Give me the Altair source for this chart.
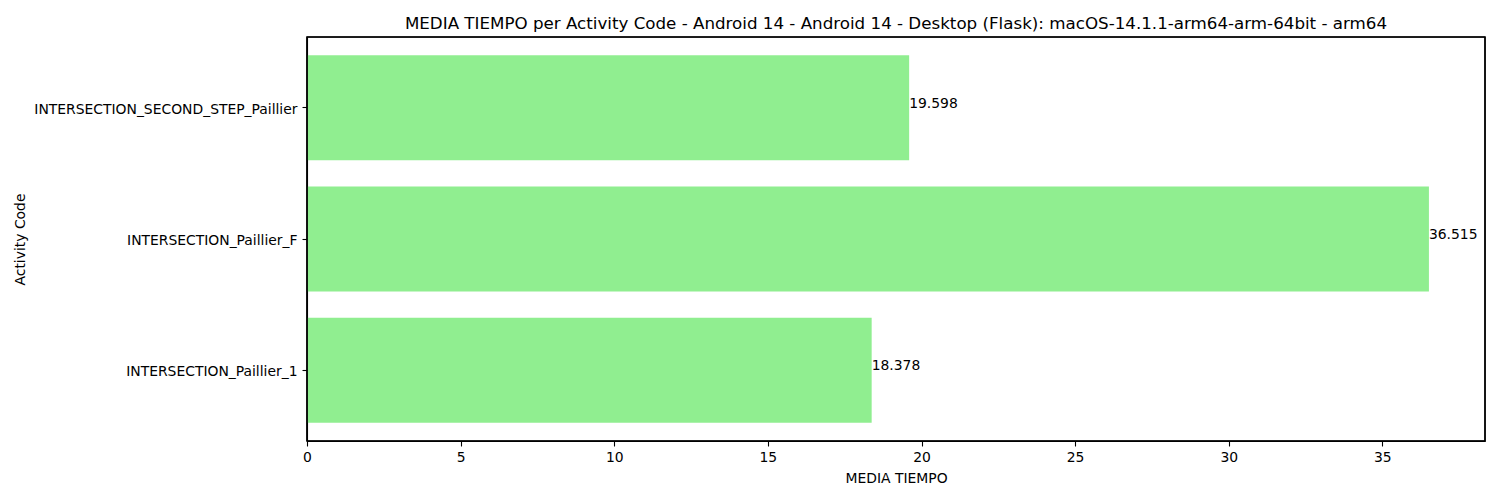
import altair as alt
import pandas as pd

categories = ["INTERSECTION_SECOND_STEP_Paillier", "INTERSECTION_Paillier_F", "INTERSECTION_Paillier_1"]
values = [19.598, 36.515, 18.378]
labels = ["19.598", "36.515", "18.378"]

df = pd.DataFrame({"cat": categories, "val": values, "lab": labels})

FONT = "DejaVu Sans"
W, H = 1178, 404

y_enc = alt.Y("cat:N", sort=categories, title="Activity Code",
              scale=alt.Scale(paddingInner=0.2, paddingOuter=0.14),
              axis=alt.Axis(labelFontSize=13.9, titleFontSize=13.9, labelFont=FONT, titleFont=FONT,
                            labelColor="black", titleColor="black", tickColor="black", domainColor="black",
                            tickSize=5, labelPadding=5, grid=False, labelOffset=2, tickWidth=1.1,
                            domainWidth=1.1, titleFontWeight="normal", labelLimit=400,
                            titleX=-287, titleY=202, titleAngle=270, titleAlign="center",
                            titleBaseline="middle"))
x_enc = alt.X("val:Q", title="MEDIA TIEMPO",
              scale=alt.Scale(domain=[0, 38.34], nice=False, zero=True),
              axis=alt.Axis(values=[0, 5, 10, 15, 20, 25, 30, 35], labelFontSize=13.9, titleFontSize=13.9,
                            labelFont=FONT, titleFont=FONT, labelColor="black", titleColor="black",
                            tickColor="black", domainColor="black", tickSize=5, labelPadding=4,
                            tickWidth=1.1, domainWidth=1.1,
                            titlePadding=8, grid=False, titleFontWeight="normal", labelFlush=False))

bars = alt.Chart(df).mark_bar(color="#90EE90").encode(x=x_enc, y=y_enc)
text = alt.Chart(df).mark_text(align="left", baseline="alphabetic", font=FONT, fontSize=13.9,
                               color="black").encode(
    x=alt.X("val:Q"), y=alt.Y("cat:N", sort=categories), text="lab:N")
frame = alt.Chart(df).mark_rect(fill=None, stroke="black", strokeWidth=1.1).encode(
    x=alt.value(0), x2=alt.value(W), y=alt.value(0), y2=alt.value(H))

chart = alt.layer(bars, text, frame).properties(
    width=W, height=H,
    title=alt.TitleParams("MEDIA TIEMPO per Activity Code - Android 14 - Android 14 - Desktop (Flask): macOS-14.1.1-arm64-arm-64bit - arm64",
                          font=FONT, fontSize=16.7, fontWeight="normal", color="black", anchor="middle", offset=4),
    autosize=alt.AutoSizeParams(type="none"),
    padding={"left": 299, "top": 29, "right": 7, "bottom": 51},
).configure_view(stroke=None).configure(background="white")

chart.save("out.html", embed_options={"renderer": "svg", "actions": False})
